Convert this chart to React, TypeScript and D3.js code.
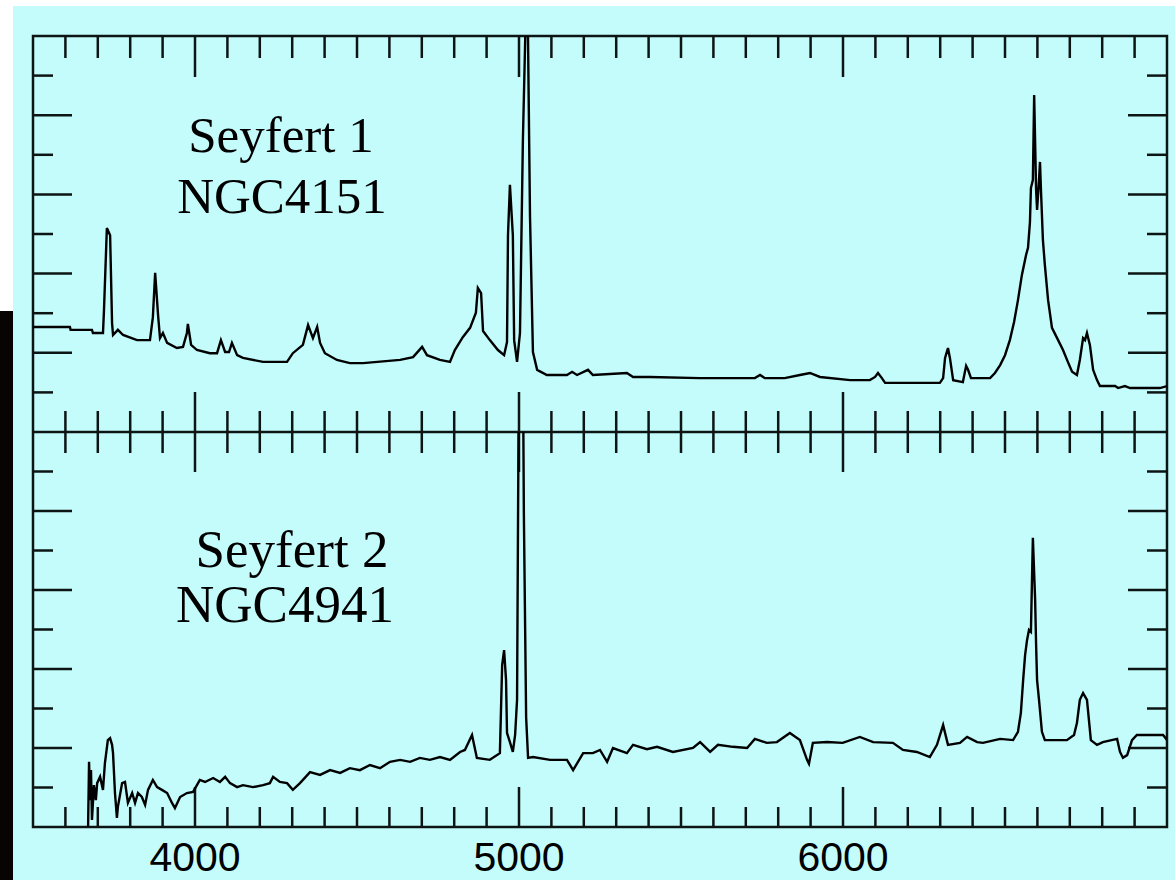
import React from "react";
import * as d3 from "d3";

// Wavelength (Å) tick values
const majorTicks = [4000, 5000, 6000];
const minorTicks = [3600, 3700, 3800, 3900, 4100, 4200, 4300, 4400, 4500, 4600, 4700, 4800, 4900, 5100, 5200, 5300, 5400, 5500, 5600, 5700, 5800, 5900, 6100, 6200, 6300, 6400, 6500, 6600, 6700, 6800, 6900];
const fluxTicks = [1, 2, 3, 4, 5, 6, 7, 8, 9];

const labels1 = ["Seyfert 1", "NGC4151"];
const labels2 = ["Seyfert 2", "NGC4941"];

// Seyfert 1 spectrum: [wavelength, relative flux]
const seyfert1: [number, number][] = [
  [3500, 2.65], [3614, 2.65], [3616, 2.58], [3682, 2.58], [3685, 2.5], [3716, 2.5], [3719, 3.06], [3728, 5.15], [3738, 4.97], [3744, 2.75], [3747, 2.45], [3762, 2.58], [3778, 2.45], [3821, 2.32], [3861, 2.32], [3870, 2.9], [3877, 4.02], [3886, 2.95], [3892, 2.37], [3901, 2.5], [3914, 2.25], [3944, 2.12], [3963, 2.15], [3975, 2.5], [3978, 2.73], [3988, 2.2], [4006, 2.07], [4046, 1.99], [4068, 1.99], [4080, 2.32], [4093, 2.02], [4105, 2.02], [4114, 2.25], [4130, 1.94], [4148, 1.87], [4210, 1.77], [4284, 1.77], [4302, 1.99], [4333, 2.2], [4349, 2.7], [4364, 2.37], [4377, 2.65], [4386, 2.25], [4401, 1.99], [4438, 1.82], [4478, 1.74], [4519, 1.74], [4633, 1.82], [4673, 1.89], [4701, 2.15], [4716, 1.94], [4756, 1.82], [4787, 1.77], [4802, 2.07], [4827, 2.4], [4849, 2.63], [4867, 3.01], [4873, 3.64], [4883, 3.51], [4889, 2.55], [4910, 2.32], [4935, 2.07], [4954, 1.94], [4963, 2.27], [4966, 4.97], [4972, 6.24], [4981, 4.97], [4985, 2.32], [4994, 1.77], [5003, 2.5], [5012, 7.37], [5025, 12], [5034, 5.43], [5043, 2.02], [5056, 1.57], [5086, 1.44], [5148, 1.44], [5164, 1.52], [5179, 1.44], [5213, 1.57], [5228, 1.44], [5333, 1.49], [5352, 1.39], [5404, 1.39], [5559, 1.36], [5728, 1.36], [5744, 1.44], [5759, 1.36], [5820, 1.36], [5867, 1.44], [5898, 1.49], [5929, 1.39], [6022, 1.31], [6083, 1.31], [6099, 1.39], [6108, 1.49], [6120, 1.36], [6130, 1.24], [6299, 1.24], [6309, 1.36], [6315, 1.87], [6324, 2.12], [6330, 1.87], [6340, 1.31], [6370, 1.26], [6380, 1.67], [6386, 1.57], [6395, 1.36], [6454, 1.36], [6469, 1.49], [6485, 1.69], [6500, 1.94], [6515, 2.32], [6528, 2.78], [6540, 3.33], [6552, 3.96], [6565, 4.47], [6571, 4.65], [6577, 5.3], [6580, 6.16], [6586, 6.36], [6590, 8.51], [6596, 6.11], [6599, 5.61], [6605, 6.36], [6608, 6.82], [6611, 6.11], [6617, 4.85], [6623, 4.22], [6633, 3.33], [6645, 2.63], [6664, 2.32], [6679, 2.07], [6694, 1.77], [6707, 1.52], [6722, 1.44], [6731, 1.82], [6741, 2.37], [6747, 2.32], [6753, 2.5], [6762, 2.2], [6772, 1.57], [6784, 1.31], [6793, 1.16], [6840, 1.16], [6849, 1.11], [6870, 1.16], [6886, 1.11], [6932, 1.11], [6978, 1.11], [7000, 1.16],
];

// Seyfert 2 spectrum: [wavelength, relative flux]
const seyfert2: [number, number][] = [
  [3670, 0], [3673, 1.65], [3676, 0.68], [3679, 1.44], [3682, 0.18], [3688, 1.06], [3694, 0.68], [3698, 1.11], [3707, 1.27], [3716, 0.94], [3722, 1.62], [3731, 2.2], [3738, 2.25], [3744, 2.08], [3747, 1.87], [3753, 0.86], [3759, 0.23], [3762, 0.51], [3775, 1.11], [3784, 1.14], [3793, 0.61], [3806, 0.86], [3815, 0.61], [3824, 0.86], [3836, 0.76], [3846, 0.56], [3855, 0.94], [3870, 1.19], [3883, 1.01], [3898, 0.94], [3914, 0.86], [3929, 0.61], [3938, 0.48], [3954, 0.76], [3975, 0.86], [3994, 0.89], [4006, 1.06], [4015, 1.19], [4031, 1.14], [4056, 1.24], [4077, 1.14], [4093, 1.27], [4108, 1.11], [4130, 1.01], [4148, 1.06], [4179, 1.01], [4210, 1.06], [4231, 1.11], [4241, 1.27], [4262, 1.14], [4284, 1.11], [4302, 0.94], [4324, 1.11], [4355, 1.39], [4386, 1.32], [4417, 1.44], [4448, 1.37], [4478, 1.49], [4509, 1.44], [4540, 1.57], [4571, 1.49], [4602, 1.65], [4633, 1.7], [4664, 1.65], [4694, 1.75], [4725, 1.7], [4756, 1.77], [4787, 1.7], [4818, 1.9], [4833, 1.95], [4855, 2.33], [4870, 1.75], [4910, 1.7], [4941, 1.87], [4948, 4.1], [4954, 4.48], [4960, 3.72], [4963, 2.38], [4972, 2.15], [4981, 1.9], [4988, 2.33], [4994, 3.22], [4997, 7.77], [5000, 12], [5012, 12], [5015, 7.95], [5022, 2.78], [5028, 1.75], [5043, 1.77], [5096, 1.7], [5148, 1.7], [5167, 1.44], [5198, 1.87], [5228, 1.87], [5250, 1.95], [5272, 1.65], [5290, 2.0], [5333, 1.87], [5352, 2.08], [5395, 1.97], [5426, 2.03], [5475, 1.9], [5537, 2.0], [5559, 2.15], [5590, 1.9], [5614, 2.08], [5660, 2.03], [5704, 2.0], [5728, 2.23], [5765, 2.13], [5796, 2.15], [5836, 2.38], [5867, 2.2], [5889, 1.7], [5895, 1.6], [5907, 2.13], [5951, 2.15], [5999, 2.13], [6052, 2.28], [6093, 2.15], [6154, 2.13], [6185, 1.95], [6228, 1.9], [6268, 1.77], [6290, 2.08], [6309, 2.58], [6324, 2.08], [6361, 2.13], [6383, 2.28], [6414, 2.15], [6432, 2.13], [6485, 2.23], [6525, 2.2], [6540, 2.41], [6549, 2.89], [6556, 3.72], [6562, 4.35], [6568, 4.73], [6574, 4.99], [6580, 4.94], [6586, 7.32], [6593, 5.75], [6596, 4.61], [6599, 3.72], [6605, 3.22], [6614, 2.41], [6623, 2.2], [6645, 2.2], [6691, 2.2], [6713, 2.33], [6722, 2.63], [6731, 3.22], [6741, 3.39], [6753, 3.22], [6759, 2.71], [6765, 2.2], [6784, 2.08], [6802, 2.15], [6846, 2.23], [6855, 1.9], [6864, 1.75], [6877, 1.82], [6892, 2.2], [6907, 2.33], [6948, 2.33], [6988, 2.33], [7000, 2.2],
];

const W = 1175;
const H = 880;
const left = 33;
const right = 1167;
const top = 36;
const mid = 432;
const bottom = 827;
const ink = "#0d1414";

export default function App() {
  const x = d3.scaleLinear().domain([3500, 7000]).range([left, right]);
  const yTop = d3.scaleLinear().domain([0, 10]).range([mid, top]);
  const yBot = d3.scaleLinear().domain([0, 10]).range([bottom, mid]);

  const line1 = d3.line<[number, number]>().x((d) => x(d[0])).y((d) => yTop(d[1]));
  const line2 = d3.line<[number, number]>().x((d) => x(d[0])).y((d) => yBot(d[1]));

  const serif = "'Liberation Serif', 'Times New Roman', serif";
  const sans = "'Liberation Sans', Arial, sans-serif";

  const yTicks = (ys: d3.ScaleLinear<number, number>, key: string) =>
    fluxTicks.map((t) => {
      const len = t % 2 === 0 ? 39 : 20;
      const yy = ys(t);
      return (
        <g key={key + t}>
          <line x1={left} x2={left + len} y1={yy} y2={yy} />
          <line x1={right} x2={right - len} y1={yy} y2={yy} />
        </g>
      );
    });

  return (
    <svg width={W} height={H} style={{ position: "absolute", left: 0, top: 0, display: "block" }}>
      <defs>
        <clipPath id="clipTop">
          <rect x={left} y={top} width={right - left} height={mid - top} />
        </clipPath>
        <clipPath id="clipBot">
          <rect x={left} y={mid} width={right - left} height={bottom - mid} />
        </clipPath>
      </defs>
      <rect x={0} y={0} width={W} height={H} fill="#ffffff" />
      <rect x={13} y={6} width={W - 13} height={H - 6} fill="#c4fcfc" />
      <rect x={0} y={311} width={13} height={H - 311} fill="#080404" />

      <g stroke={ink} strokeWidth={2.5} fill="none">
        <rect x={left} y={top} width={right - left} height={bottom - top} />
        <line x1={left} x2={right} y1={mid} y2={mid} />
        {minorTicks.map((t) => (
          <g key={"m" + t}>
            <line x1={x(t)} x2={x(t)} y1={top} y2={top + 22} />
            <line x1={x(t)} x2={x(t)} y1={mid - 21} y2={mid + 21} />
            <line x1={x(t)} x2={x(t)} y1={bottom} y2={bottom - 20} />
          </g>
        ))}
        {majorTicks.map((t) => (
          <g key={"M" + t}>
            <line x1={x(t)} x2={x(t)} y1={top} y2={top + 41} />
            <line x1={x(t)} x2={x(t)} y1={mid - 40} y2={mid + 40} />
            <line x1={x(t)} x2={x(t)} y1={bottom} y2={bottom - 40} />
          </g>
        ))}
        {yTicks(yTop, "t")}
        {yTicks(yBot, "b")}
      </g>

      <g fill="none" stroke="#000" strokeWidth={2.4} strokeLinejoin="miter">
        <path d={line1(seyfert1) ?? ""} clipPath="url(#clipTop)" />
        <path d={line2(seyfert2) ?? ""} clipPath="url(#clipBot)" />
      </g>

      <g fontFamily={serif} fill="#000" textAnchor="middle">
        <text x={281} y={152} fontSize={51}>{labels1[0]}</text>
        <text x={282} y={213} fontSize={51}>{labels1[1]}</text>
        <text x={292} y={567} fontSize={53}>{labels2[0]}</text>
        <text x={285} y={622} fontSize={53}>{labels2[1]}</text>
      </g>

      <g fontFamily={sans} fontSize={41} fill="#000" textAnchor="middle">
        {majorTicks.map((t) => (
          <text key={"l" + t} x={x(t)} y={871}>{t}</text>
        ))}
      </g>
    </svg>
  );
}
